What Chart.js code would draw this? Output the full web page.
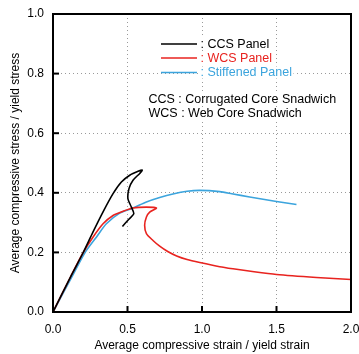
<!DOCTYPE html>
<html>
<head>
<meta charset="utf-8">
<script src="https://cdn.jsdelivr.net/npm/chart.js@4/dist/chart.umd.min.js"></script>
<style>
  html, body { margin: 0; padding: 0; background: #fff; }
  #wrap { width: 359px; height: 354px; }
</style>
</head>
<body>
<div id="wrap"><canvas id="chart" width="359" height="354"></canvas></div>
<script>
// strain / yield strain, stress / yield stress
const ccsX = [0, 0.123, 0.201, 0.268, 0.336, 0.403, 0.459, 0.515, 0.571, 0.6, 0.582, 0.537, 0.51, 0.503, 0.526, 0.542, 0.503, 0.466];
const ccsY = [0, 0.123, 0.198, 0.268, 0.336, 0.397, 0.436, 0.459, 0.472, 0.476, 0.465, 0.442, 0.414, 0.38, 0.352, 0.33, 0.308, 0.287];

const wcsX = [0, 0.12, 0.201, 0.268, 0.336, 0.403, 0.47, 0.537, 0.627, 0.694, 0.649, 0.627, 0.615, 0.627, 0.671, 0.716, 0.77, 0.83, 0.9, 0.985, 1.119, 1.208, 1.35, 1.5, 1.768, 2.0];
const wcsY = [0, 0.12, 0.198, 0.251, 0.296, 0.324, 0.338, 0.349, 0.352, 0.349, 0.335, 0.319, 0.291, 0.263, 0.24, 0.221, 0.203, 0.188, 0.176, 0.166, 0.152, 0.145, 0.135, 0.126, 0.116, 0.109];

const stfX = [0, 0.134, 0.213, 0.291, 0.358, 0.448, 0.537, 0.627, 0.716, 0.805, 0.9, 0.985, 1.119, 1.2, 1.32, 1.5, 1.634];
const stfY = [0, 0.125, 0.198, 0.251, 0.296, 0.332, 0.349, 0.369, 0.384, 0.396, 0.405, 0.408, 0.404, 0.397, 0.386, 0.371, 0.361];

const seriesNames = [': CCS Panel', ': WCS Panel', ': Stiffened Panel'];
const seriesColors = ['#000000', '#e8231f', '#3ba4dd'];
const notes = ['CCS : Corrugated Core Snadwich', 'WCS : Web Core Snadwich'];
const xTicks = [0, 0.5, 1.0, 1.5, 2.0];
const yTicks = [0, 0.2, 0.4, 0.6, 0.8, 1.0];

function pts(xs, ys) {
    return xs.map((x, k) => ({ x: x, y: ys[k] }));
}

const FONT = '"Liberation Sans", Arial, sans-serif';

const framePlugin = {
    id: 'frame',
    afterDatasetsDraw(chart) {
        const ctx = chart.ctx;
        const a = chart.chartArea;
        const xs = chart.scales.x;
        const ys = chart.scales.y;
        ctx.save();

        // inside ticks
        ctx.strokeStyle = '#000';
        ctx.lineWidth = 2;
        xTicks.slice(1, -1).forEach(v => {
            const px = xs.getPixelForValue(v);
            ctx.beginPath();
            ctx.moveTo(px, a.bottom);
            ctx.lineTo(px, a.bottom - 6);
            ctx.stroke();
        });
        yTicks.slice(1, -1).forEach(v => {
            const py = ys.getPixelForValue(v);
            ctx.beginPath();
            ctx.moveTo(a.left, py);
            ctx.lineTo(a.left + 6, py);
            ctx.stroke();
        });

        // frame
        ctx.lineWidth = 2;
        ctx.strokeRect(a.left, a.top, a.right - a.left, a.bottom - a.top);

        // legend
        ctx.font = '12.5px ' + FONT;
        ctx.textBaseline = 'middle';
        ctx.textAlign = 'left';
        const legY = [44, 58, 72.5];
        seriesNames.forEach((name, k) => {
            const w = ctx.measureText(name).width;
            ctx.fillStyle = '#fff';
            ctx.fillRect(200, legY[k] - 6, w + 2, 12);
            ctx.strokeStyle = seriesColors[k];
            ctx.lineWidth = 1.5;
            ctx.beginPath();
            ctx.moveTo(161, legY[k]);
            ctx.lineTo(197, legY[k]);
            ctx.stroke();
            ctx.fillStyle = seriesColors[k];
            ctx.fillText(name, 200.5, legY[k] + 0.5);
        });

        const noteY = [99.5, 113.5];
        notes.forEach((t, k) => {
            const w = ctx.measureText(t).width;
            ctx.fillStyle = '#fff';
            ctx.fillRect(148, noteY[k] - 6, w + 2, 12);
            ctx.fillStyle = '#000';
            ctx.fillText(t, 148.5, noteY[k] + 0.5);
        });

        // axis titles
        ctx.font = '12px ' + FONT;
        ctx.fillStyle = '#000';
        ctx.textAlign = 'center';
        ctx.fillText('Average compressive strain / yield strain', (a.left + a.right) / 2, 346);
        ctx.translate(16, (a.top + a.bottom) / 2);
        ctx.rotate(-Math.PI / 2);
        ctx.fillText('Average compressive stress / yield stress', 0, 0);
        ctx.restore();
    }
};

const makeSet = (label, xs, ys, color) => ({
    label: label,
    data: pts(xs, ys),
    showLine: true,
    borderColor: color,
    backgroundColor: color,
    borderWidth: 1.6,
    pointRadius: 0,
    tension: 0.25,
    fill: false
});

new Chart(document.getElementById('chart'), {
    type: 'scatter',
    data: {
        datasets: [
            makeSet('CCS Panel', ccsX, ccsY, seriesColors[0]),
            makeSet('WCS Panel', wcsX, wcsY, seriesColors[1]),
            makeSet('Stiffened Panel', stfX, stfY, seriesColors[2])
        ]
    },
    options: {
        responsive: false,
        animation: false,
        layout: { padding: { left: 0, right: 8, top: 14, bottom: 0 } },
        plugins: { legend: { display: false }, tooltip: { enabled: false } },
        scales: {
            x: {
                type: 'linear',
                min: 0,
                max: 2,
                afterBuildTicks: s => { s.ticks = xTicks.map(v => ({ value: v })); },
                afterFit: s => { s.height = 42; s.paddingLeft = 0; s.paddingRight = 0; },
                ticks: {
                    callback: v => v.toFixed(1),
                    color: '#000',
                    font: { family: FONT, size: 12 },
                    padding: 10,
                    maxRotation: 0
                },
                grid: { color: '#9a9a9a', lineWidth: 1, drawTicks: false },
                border: { display: false, dash: [1, 3] }
            },
            y: {
                type: 'linear',
                min: 0,
                max: 1,
                afterBuildTicks: s => { s.ticks = yTicks.map(v => ({ value: v })); },
                afterFit: s => { s.width = 53; s.paddingTop = 0; s.paddingBottom = 0; },
                ticks: {
                    callback: v => v.toFixed(1),
                    color: '#000',
                    font: { family: FONT, size: 12 },
                    padding: 9
                },
                grid: { color: '#9a9a9a', lineWidth: 1, drawTicks: false },
                border: { display: false, dash: [1, 3] }
            }
        }
    },
    plugins: [framePlugin]
});
</script>
</body>
</html>
